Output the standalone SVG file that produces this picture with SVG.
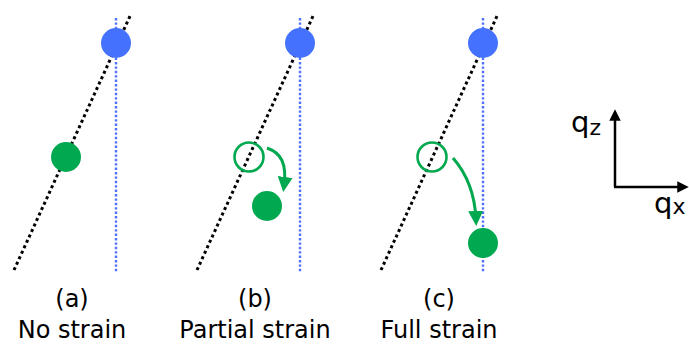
<svg xmlns="http://www.w3.org/2000/svg" width="689" height="345" viewBox="0 0 689 345">
<style>
.lat{stroke:#000;stroke-width:3;stroke-dasharray:3 3;fill:none}
.vert{stroke:#4f70ff;stroke-width:2.4;stroke-dasharray:2.4 2;fill:none}
.blue{fill:#4472fe}
.green{fill:#00a84f}
.hollow{fill:none;stroke:#00a84f;stroke-width:2.6}
.arr{fill:none;stroke:#00a84f;stroke-width:3}
.ax{fill:none;stroke:#000;stroke-width:2.5}
text{font-family:"DejaVu Sans",Verdana,sans-serif;fill:#000}
.lbl{text-anchor:middle;font-size:24px}
.q{font-size:29px}
.sub{font-size:22px}
</style>
<defs>
<marker id="ga" viewBox="0 0 10 10" refX="6" refY="5" markerWidth="5" markerHeight="5" orient="auto" markerUnits="strokeWidth"><path d="M0,0 L10,5 L0,10 z" fill="#00a84f"/></marker>
<marker id="ka" viewBox="0 0 10 10" refX="5" refY="5" markerWidth="4.6" markerHeight="4.6" orient="auto" markerUnits="strokeWidth"><path d="M0,0 L10,5 L0,10 z" fill="#000"/></marker>
</defs>
<g id="connectors">
<line class="lat" x1="14" y1="270" x2="131" y2="14"/>
<line class="vert" x1="116" y1="18" x2="116" y2="272"/>
<line class="lat" x1="197" y1="270" x2="314" y2="14"/>
<line class="vert" x1="300" y1="18" x2="300" y2="272"/>
<line class="lat" x1="381" y1="270" x2="498" y2="14"/>
<line class="vert" x1="483" y1="18" x2="483" y2="272"/>
<path class="arr" d="M267,148 C281,153 287,163 284,186" marker-end="url(#ga)"/>
<path class="arr" d="M453,158 C467,174 475,194 476,220" marker-end="url(#ga)"/>
<path class="ax" d="M615,187 L615,115" marker-end="url(#ka)"/>
<path class="ax" d="M614,187 L683,187" marker-end="url(#ka)"/>
</g>
<g id="panel-a">
<circle class="blue" cx="116" cy="43" r="15"/>
<circle class="green" cx="66" cy="157" r="15"/>
<text class="lbl" x="72" y="307">(a)</text>
<text class="lbl" x="72" y="338">No strain</text>
</g>
<g id="panel-b">
<circle class="blue" cx="300" cy="43" r="15"/>
<circle class="hollow" cx="249" cy="157" r="14.5"/>
<circle class="green" cx="267" cy="206" r="15"/>
<text class="lbl" x="255" y="307">(b)</text>
<text class="lbl" x="255" y="338">Partial strain</text>
</g>
<g id="panel-c">
<circle class="blue" cx="483" cy="43" r="15"/>
<circle class="hollow" cx="432" cy="157" r="14.5"/>
<circle class="green" cx="483" cy="243" r="15"/>
<text class="lbl" x="439" y="307">(c)</text>
<text class="lbl" x="439" y="338">Full strain</text>
</g>
<g id="axes">
<text class="q" x="571" y="132">q<tspan class="sub" dy="3">z</tspan></text>
<text class="q" x="654" y="213">q<tspan class="sub" dy="1">x</tspan></text>
</g>
</svg>
